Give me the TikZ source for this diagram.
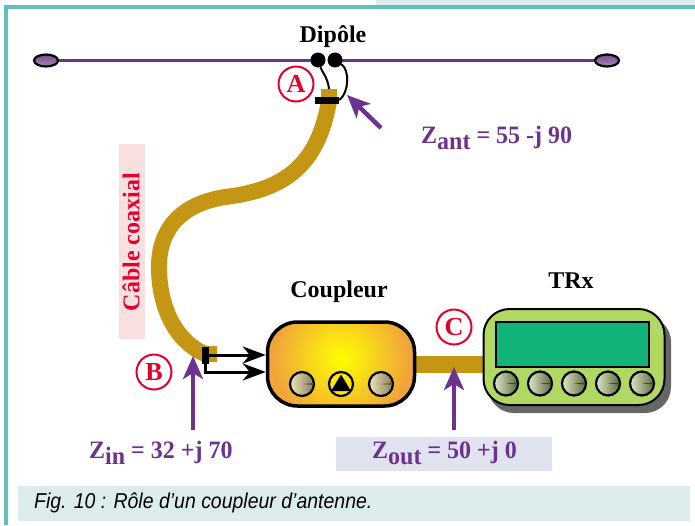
\documentclass[tikz,border=0pt]{standalone}
\usepackage{fontspec}
\setmainfont{Liberation Serif}
\newfontfamily\capfont{Liberation Sans}
\usetikzlibrary{arrows.meta,calc,shapes.geometric}
\definecolor{frameteal}{HTML}{62C0BC}
\definecolor{capbg}{HTML}{DCECEA}
\definecolor{coax}{HTML}{C49614}
\definecolor{vio}{HTML}{6B338F}
\definecolor{redc}{HTML}{E4002B}
\definecolor{rosebg}{HTML}{F8E0E0}
\definecolor{zbg}{HTML}{E2E3F0}
\definecolor{trxg}{HTML}{B0D862}
\definecolor{trxs}{HTML}{10B478}
\definecolor{orangeb}{HTML}{F0A43A}
\definecolor{ktan}{HTML}{EFE3B8}
\definecolor{ktand}{HTML}{8A7F5C}
\definecolor{kgrn}{HTML}{DDE8C8}
\definecolor{kgrnd}{HTML}{5C6B3C}
\tikzset{
 lab/.style={font=\bfseries\fontsize{24}{26}\selectfont,text=black,inner sep=0pt},
 zlab/.style={font=\bfseries\fontsize{25}{27}\selectfont,text=vio,inner sep=0pt,xscale=0.96},
 circ/.style={circle,draw=redc,line width=2pt,fill=white,minimum size=35pt,inner sep=0pt,text=redc,font=\bfseries\fontsize{26}{28}\selectfont},
 insul/.style={ellipse,draw=black,line width=2.2pt,minimum width=24pt,minimum height=12pt,inner sep=0pt,top color=vio!60!gray,bottom color=vio!60!white},
 knobk/.style 2 args={circle,draw=black,line width=2.2pt,minimum size=24pt,inner sep=0pt,left color=#1,right color=#2},
 pointer/.style={draw=vio,line width=4.5pt,-{Stealth[length=23pt,width=20pt,inset=6pt]}},
 feed/.style={draw=black,line width=3pt,-{Stealth[length=23pt,width=17pt,inset=7pt]}},
 wire/.style={draw=black,line width=2pt},
 term/.style={circle,fill=black,minimum size=15pt,inner sep=0pt},
}
\begin{document}
\begin{tikzpicture}[x=1pt,y=-1pt]
\useasboundingbox (0,0) rectangle (695,525);
% frame
\fill[capbg] (376,0) rectangle (695,6);
\fill[frameteal] (4,5) rectangle (695,9);
\fill[frameteal] (4,5) rectangle (8,525);
% caption
\node[fill=capbg,minimum width=672pt,minimum height=35pt,inner sep=0pt,anchor=north west] (cap) at (18,485.5) {};
\node[anchor=west,inner sep=0pt,font=\capfont\itshape\fontsize{21.5}{23}\selectfont,xscale=0.906] (captxt) at (34,503) {Fig. 10 : Rôle d’un coupleur d’antenne.};
% zout and cable label backgrounds
\node[fill=zbg,minimum width=216pt,minimum height=34pt,inner sep=0pt,anchor=north west] (zbox) at (336,437) {};
\node[fill=rosebg,minimum width=26pt,minimum height=195pt,inner sep=0pt,anchor=north west] (cbox) at (119,144) {};
\node[rotate=90,font=\bfseries\fontsize{24}{26}\selectfont,text=redc,inner sep=0pt] (clab) at (131,242) {Câble coaxial};
% dipole
\coordinate (wl) at (317,60.5);
\coordinate (wr) at (335,60.5);
\node[insul] (il) at (46,60.5) {};
\node[insul] (ir) at (607,60.5) {};
\draw[vio,line width=2.2pt] (il) -- (wl);
\draw[vio,line width=2.2pt] (wr) -- (ir);
\node[term] (ta) at (318,60) {};
\node[term] (tb) at (335,60) {};
\node[lab] (dip) at (333,37) {Dipôle};
% coax
\coordinate (c0) at (329,89);
\coordinate (c1) at (205,354);
\draw[coax,line width=16pt] (c0) -- (329,101) .. controls (318,165) and (285,190) .. (225,197) .. controls (175,205) and (158,235) .. (159,270) .. controls (160,310) and (177,342) .. (c1) -- (217,354);
\node[fill=black,minimum width=24pt,minimum height=7pt,inner sep=0pt] (ba) at (327,100) {};
\draw[wire] (ta) .. controls (322,72) and (328,78) .. (329,89);
\draw[wire] (tb) .. controls (350,70) and (349,93) .. (ba.east);
\node[circ] (A) at (296,84) {A};
\node[circ] (B) at (154,372) {B};
\node[circ] (C) at (454,327) {C};
% coupler and TRx link
\node[fill=black,minimum width=7pt,minimum height=17pt,inner sep=0pt] (bb) at (205,355) {};
% coupler
\draw[coax,line width=17pt] (415,364) -- (484,364);
\begin{scope}
\clip[rounded corners=30pt] (267.5,322) rectangle (414.5,406);
\fill[orangeb] (267.5,322) rectangle (414.5,406);
\shade[inner color=yellow,outer color=orangeb] (341,358) circle[radius=68];
\end{scope}
\node[draw=black,line width=3.5pt,rounded corners=30pt,minimum width=147pt,minimum height=84pt,inner sep=0pt] (coupl) at (341,364) {};
\node[knobk={ktan}{ktand}] (k1) at (302,384) {};
\fill[ktand!70!black] (k1.center) -- ++(11,-1) -- ++(0,2) -- cycle;
\node[knobk={ktan}{ktand}] (k3) at (381,384) {};
\fill[ktand!70!black] (k3.center) -- ++(11,-1) -- ++(0,2) -- cycle;
\node[circle,draw=black,line width=2.2pt,fill=yellow!90!orange,minimum size=24pt,inner sep=0pt] (k2) at (341,384) {};
\fill[black] (341,374.5) -- (351,391) -- (331,391) -- cycle;
\node[lab] (cp) at (339,292) {Coupleur};
\draw[feed] (bb.east |- 355,355) -- (coupl.west |- 355,355);
\draw[feed] (205,364) -- (205,372) -- (coupl.west |- 355,372);
% TRx
\fill[black!60] (488,316) [rounded corners=26pt] rectangle (671,413);
\node[draw=black,line width=2pt,rounded corners=26pt,fill=trxg,minimum width=181pt,minimum height=96pt,inner sep=0pt] (trx) at (574,357) {};
\node[draw=black,line width=2pt,fill=trxs,minimum width=153pt,minimum height=45pt,inner sep=0pt] (scr) at (572.5,344.5) {};
\foreach \n/\x in {a/506,b/540,c/574,d/608,e/642}{
 \node[knobk={kgrn}{kgrnd}] (t\n) at (\x,383.5) {};
 \fill[kgrnd!70!black] (t\n.center) -- ++(11,-1) -- ++(0,2) -- cycle;
}
\node[lab] (tx) at (571,281) {TRx};
% pointers
\coordinate (pa0) at (381,128); \coordinate (pa1) at (347,95);
\draw[pointer] (pa0) -- (pa1);
\coordinate (pb0) at (193,430); \coordinate (pb1) at (193,356);
\draw[pointer] (pb0) -- (pb1);
\coordinate (pc0) at (454,430); \coordinate (pc1) at (454,367);
\draw[pointer] (pc0) -- (pc1);
% Z labels
\node[zlab,anchor=base west] (za) at (421,143) {Z\raisebox{-6pt}{ant} = 55 -j 90};
\node[zlab,anchor=base west] (zi) at (89,458) {Z\raisebox{-6pt}{in} = 32 +j 70};
\node[zlab,anchor=base west] (zo) at (372,458) {Z\raisebox{-6pt}{out} = 50 +j 0};
\end{tikzpicture}
\end{document}
